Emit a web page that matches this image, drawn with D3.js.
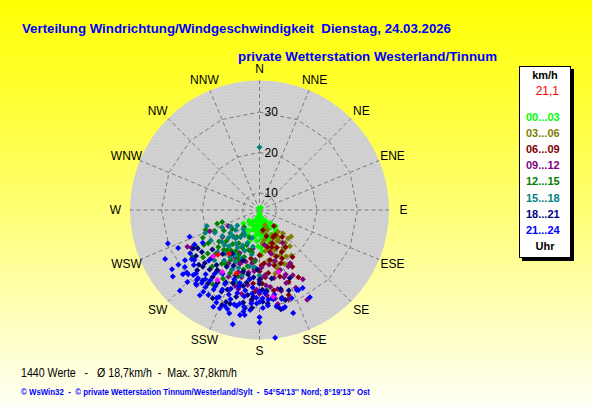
<!DOCTYPE html>
<html>
<head>
<meta charset="utf-8">
<title>Verteilung Windrichtung/Windgeschwindigkeit</title>
<script src="https://d3js.org/d3.v7.min.js"></script>
<style>
  body { margin: 0; }
  svg { display: block; font-family: "Liberation Sans", Arial, sans-serif; }
</style>
</head>
<body>
<svg id="chart" width="592" height="407"></svg>
<script>

// ---- data ----
var dirLabels = ["N","NNE","NE","ENE","E","ESE","SE","SSE","S","SSW","SW","WSW","W","WNW","NW","NNW"];
var ringTicks = [10, 20, 30];
var speedMin = 5.8, speedMax = 37.8;   // centre and rim of the disk, km/h
var bandLabels = ["00...03","03...06","06...09","09...12","12...15","15...18","18...21","21...24"];
var currentValue = "21,1";
var title1 = "Verteilung Windrichtung/Windgeschwindigkeit  Dienstag, 24.03.2026";
var title2 = "private Wetterstation Westerland/Tinnum";
var summary = "1440 Werte   -   \u00d8 18,7km/h  -  Max. 37,8km/h";
var footer = "\u00a9 WsWin32  -  \u00a9 private Wetterstation Tinnum/Westerland/Sylt  -  54\u00b054'13'' Nord; 8\u00b019'13'' Ost";

// [direction deg, speed km/h]
var h00_03 = [[180,6.5],[175,7.5],[185,8],[170,9],[190,9],[160,9.5],[200,10],[178,10.5],[165,11],[150,11],
  [210,11.5],[188,12],[172,12.5],[155,12.5],[195,13],[140,12],[220,12],[182,9.8],[168,10],[192,11],
  [176,8.5],[158,10.5],[202,8.5],[148,13.5],[185,13.5],[163,13.8],[215,10],[230,11],[170,14.5],[0,6.2],
  [30,6.5],[330,6.3],[175,11.8],[185,11],[160,8],[178,15],[182,14.8],[176,16],[195,7.5],[205,12.5],
  [172,7],[188,10],[165,13],[198,14],[155,10],[165,8.5],[150,9],[140,10],[135,11.5],[145,12.5],
  [200,11],[210,9],[190,12.5],[175,13],[160,13],[180,12],[170,11],[155,9],[225,9.5],[195,10]];
var h03_06 = [[160,9.8],[153,12.7],[142,16.1],[135,15.8],[146,17.1],[162,14.3],[173,11.2],[140,12.9],[171,13.3],[159,16.4],
  [155,18],[150,14.5],[165,12],[145,14],[168,15.5],[158,11],[150,19],[162,17.5],[170,18.5],[155,13.5],
  [148,16.8],[175,14],[160,20],[152,21],[178,17],[166,22],[145,19.5],[165,19],[157,15],[150,17.5],
  [172,16],[140,17.5],[135,14],[130,16],[148,15],[163,21],[155,20.5]];
var h06_09 = [[138,11.1],[148,13.1],[159,14.5],[166,16.5],[161,28],[170,10.8],[153,13.3],[168,15.1],[168,18.4],[145,17],
  [175,19],[158,20],[150,22],[180,17],[163,23],[172,21.5],[155,16],[185,20.5],[165,12.5],[140,14.5],
  [178,24],[190,18],[195,22],[200,19.5],[183,26],[158,25],[160,18],[175,22.5],[188,23],[150,25],
  [170,26],[180,21],[195,25],[165,20],[155,19],[145,20],[162,15.5],[178,19.5],[185,24],[152,17.5]];
var h09_12 = [[153,21.5],[153,23.9],[167,25.8],[152,30.9],[169,29.5],[150,21],[243,25.8],[241,25],[145,15.7],[247,19.2],
  [243,14.5],[234,17.1],[185,18.2],[175,21.9],[161,21.5],[189,24.6],[199,22],[201,27],[170,19.5],[180,23.5],
  [160,25],[195,19],[210,21],[175,27],[185,28.5],[148,26],[215,24],[165,17],[190,15.5],[205,17.5],
  [158,23],[172,14.5],[178,20],[192,27],[168,23],[182,25.5],[205,24],[198,25.5],[163,19],[175,24.5],
  [185,21],[165,26.5],[195,23],[180,26.5],[155,27],[200,20],[188,19],[170,28],[162,29],[178,22.5],
  [190,21.5],[160,23.5],[207,19],[195,26],[172,25]];
var h12_15 = [[252,16.8],[252,15.5],[244,21.4],[237,20.9],[219,18.5],[239,23.8],[212,27.5],[225,15],[215,13.5],[235,14],
  [205,16],[228,19.5],[198,18],[210,20],[230,22.5],[220,24],[245,18],[200,13],[190,16.5],[215,22],
  [240,16],[250,20],[208,25],[195,21],[222,11.5],[235,26],[203,19],[218,16.5],[227,17],[192,20],
  [210,17.5],[225,21],[205,23],[232,18.5],[215,18],[198,23],[220,14.5],[238,22],[185,18.5],[212,15.5],
  [200,15],[230,24],[222,19],[212,21.5],[205,18],[195,16]];
var h15_18 = [[253,19.4],[247,20.4],[243,18.2],[232,15],[224.5,15.1],[0,21.3],[215,14],[205,15.5],[220,17.5],[200,18.5],
  [210,16.5],[230,18],[238,20],[195,13],[225,20.5],[215,21],[190,17],[205,22],[175,25.6],[245,16],
  [235,12.5],[220,12],[212,24],[198,24.5],[185,20],[228,16],[240,14],[208,18.5],[218,19.5],[200,21],
  [225,18],[215,16],[205,20],[195,22.5],[235,17],[210,13],[190,20],[180,22],[222,22.5],[200,16.5],
  [230,13.5],[215,12.5],[200,14.5],[212,19.5],[190,15],[220,15]];
var h18_21 = [[234,23.4],[238,23.8],[240,24.8],[226,27.2],[219,28.2],[201.5,31],[197.4,30.1],[188.4,30.3],[184.4,30.1],[167.8,30.9],
  [156,24.2],[165.7,28.2],[164,28.9],[169,30.2],[225,25.6],[188,27],[184,27.3],[226,24.6],[234,25.2],[210,22],
  [200,25],[195,21.5],[215,26],[180,24],[205,28],[190,29],[175,26],[220,20],[230,21],[198,19],
  [185,22.5],[170,23],[208,30.5],[160,27],[212,18.5],[178,28.5],[192,25],[218,23],[202,27],[182,20.5],
  [195,28],[205,25.5],[215,28],[185,28],[175,29],[200,30],[220,25],[228,26],[190,24],[178,25.5],
  [210,26.5],[165,26],[200,23],[190,22],[215,24],[205,21],[180,23],[225,22.5]];
var h21_24 = [[250,29.9],[242.5,32.1],[235.9,31.9],[249,24.3],[234,26.5],[232.5,26.1],[236,28],[224.6,33.8],[220.8,29.9],[211,30.3],
  [205.5,32.3],[202,32],[199.8,31],[196.3,32.4],[193.2,34.8],[193.4,30.2],[189.1,30],[180,32.3],[180,33.6],[173,37.6],
  [176.2,26.4],[171.2,28.1],[166,28.5],[165.3,30.6],[161.9,32.6],[154,27.8],[151,27.8],[150,30.7],[232.5,32.8],[232.6,29],
  [229.4,29.5],[225.5,28.7],[221.9,29],[218.3,28.8],[214.5,30.3],[205.9,30],[190.5,32.2],[189,31.2],[185.4,30.6],[155,27.6],
  [178,27.6],[174.4,28.1],[172,27.8],[181.7,28.9],[179.7,28.4],[166.4,30.8],[215,25],[205,26],[200,28],[195,27],
  [190,26],[185,25],[210,27.5],[220,26.5],[225,28],[230,27],[200,24],[192,29.5],[182,27.5],[215,29],
  [205,29.5],[198,31.5],[188,32],[220,30],[178,30],[170,27],[210,24],[225,23.5],[240,22],[245,28],
  [236,30],[230,30.5],[188,23],[195,24.5],[185,29],[195,30],[205,31],[215,31.5],[225,31],[175,29.5],
  [180,26],[200,26.5],[210,28.5],[218,27.5],[228,29.5],[238,26],[242,24],[170,30],[160,29],[190,27.5],
  [195,25.5],[205,27.5],[185,26.5],[215,27],[222,28.5],[198,29]];
var extraMagenta = [[211,26],[211,23.7],[171,27.5],[163,21.8],[225,22]];
var extraRed = [[223,20.9],[215,19],[200,22.5]];

var bandData = [h00_03, h03_06, h06_09, h09_12, h12_15, h15_18, h18_21, h21_24];
var bandColors = ["#00ff00","#808000","#800000","#800080","#008000","#008080","#000080","#0000ff"];

// ---- layout ----
var cx = 259.5, cy = 210, R = 129.5;
var svg = d3.select("#chart");
var defs = svg.append("defs");

var grad = defs.append("linearGradient").attr("id", "bg")
  .attr("x1", 0).attr("y1", 0).attr("x2", 0).attr("y2", 1);
grad.append("stop").attr("offset", "0%").attr("stop-color", "#ffff00");
grad.append("stop").attr("offset", "50%").attr("stop-color", "#ffff70");
grad.append("stop").attr("offset", "100%").attr("stop-color", "#fffff6");

var pat = defs.append("pattern").attr("id", "dots")
  .attr("width", 3).attr("height", 3).attr("patternUnits", "userSpaceOnUse");
pat.append("rect").attr("width", 3).attr("height", 3).attr("fill", "#cfcfcf");
pat.append("rect").attr("x", 1).attr("y", 1).attr("width", 1).attr("height", 1).attr("fill", "#d9d9d9");

svg.append("rect").attr("width", 592).attr("height", 407).attr("fill", "url(#bg)");

var rScale = d3.scaleLinear().domain([speedMin, speedMax]).range([0, R]);
var aScale = d3.scaleLinear().domain([0, 360]).range([0, 2 * Math.PI]);

var plot = svg.append("g").attr("transform", "translate(" + cx + "," + cy + ")");

plot.append("circle").attr("r", R).attr("fill", "url(#dots)");

var spokeAngles = dirLabels.map(function(d, i) { return i * 22.5; });

// rings as 16-gons
var ring = d3.lineRadial()
  .angle(function(d) { return aScale(d); })
  .curve(d3.curveLinearClosed);

plot.selectAll("path.ring")
  .data(ringTicks)
  .enter().append("path")
  .attr("class", "ring")
  .attr("d", function(t) { return ring.radius(rScale(t))(spokeAngles); })
  .attr("fill", "none")
  .attr("stroke", "#7a7a7a")
  .attr("stroke-dasharray", "4,3");

plot.selectAll("line.spoke")
  .data(spokeAngles)
  .enter().append("line")
  .attr("class", "spoke")
  .attr("x1", 0).attr("y1", 0)
  .attr("x2", function(d) { return R * Math.sin(aScale(d)); })
  .attr("y2", function(d) { return -R * Math.cos(aScale(d)); })
  .attr("stroke", "#7a7a7a")
  .attr("stroke-dasharray", "4,3");

plot.selectAll("text.tick")
  .data(ringTicks)
  .enter().append("text")
  .attr("class", "tick")
  .attr("x", 5)
  .attr("y", function(t) { return -rScale(t); })
  .attr("dy", "0.35em")
  .attr("font-size", 12)
  .text(function(t) { return t; });

plot.selectAll("text.dir")
  .data(dirLabels)
  .enter().append("text")
  .attr("class", "dir")
  .attr("x", function(d, i) { return 144 * Math.sin(aScale(i * 22.5)); })
  .attr("y", function(d, i) { return -141 * Math.cos(aScale(i * 22.5)); })
  .attr("dy", "0.35em")
  .attr("text-anchor", "middle")
  .attr("font-size", 12)
  .text(function(d) { return d; });

// scatter points
var diamond = "M0,-3L3,0L0,3L-3,0Z";
function px(d) { return rScale(d[1]) * Math.sin(aScale(d[0])); }
function py(d) { return -rScale(d[1]) * Math.cos(aScale(d[0])); }

function drawPoints(list, colour) {
  plot.append("g").selectAll("path")
    .data(list)
    .enter().append("path")
    .attr("d", diamond)
    .attr("transform", function(d) { return "translate(" + px(d).toFixed(1) + "," + py(d).toFixed(1) + ")"; })
    .attr("fill", colour);
}
bandData.forEach(function(list, i) { drawPoints(list, bandColors[i]); });
drawPoints(extraMagenta, "#ff00ff");
drawPoints(extraRed, "#ff0000");

// titles
svg.append("text").attr("x", 22).attr("y", 28).attr("dy", "0.35em")
  .attr("font-size", 13).attr("font-weight", "bold").attr("fill", "#0000ff")
  .attr("textLength", 429).attr("lengthAdjust", "spacingAndGlyphs")
  .style("white-space", "pre").text(title1);
svg.append("text").attr("x", 238).attr("y", 56).attr("dy", "0.35em")
  .attr("font-size", 13).attr("font-weight", "bold").attr("fill", "#0000ff")
  .attr("textLength", 259).attr("lengthAdjust", "spacingAndGlyphs")
  .text(title2);

svg.append("text").attr("x", 21).attr("y", 373).attr("dy", "0.35em")
  .attr("font-size", 12).attr("fill", "#000")
  .attr("textLength", 216).attr("lengthAdjust", "spacingAndGlyphs")
  .style("white-space", "pre").text(summary);
svg.append("text").attr("x", 21).attr("y", 392).attr("dy", "0.35em")
  .attr("font-size", 8.5).attr("font-weight", "bold").attr("fill", "#0000ff")
  .attr("textLength", 349).attr("lengthAdjust", "spacingAndGlyphs")
  .style("white-space", "pre").text(footer);

// legend box
var lg = svg.append("g");
lg.append("rect").attr("x", 522).attr("y", 69).attr("width", 52).attr("height", 192).attr("fill", "#000");
lg.append("rect").attr("x", 519.5).attr("y", 66.5).attr("width", 51).attr("height", 191)
  .attr("fill", "#fff").attr("stroke", "#000");
lg.append("text").attr("x", 545).attr("y", 75).attr("dy", "0.35em").attr("text-anchor", "middle")
  .attr("font-size", 11).attr("font-weight", "bold").text("km/h");
lg.append("text").attr("x", 559).attr("y", 91).attr("dy", "0.35em").attr("text-anchor", "end")
  .attr("font-size", 12).attr("fill", "#ff0000").text(currentValue);

var yBand = d3.scalePoint().domain(bandLabels).range([117, 230]);
lg.selectAll("text.band")
  .data(bandLabels)
  .enter().append("text")
  .attr("class", "band")
  .attr("x", 526)
  .attr("y", function(d) { return yBand(d); })
  .attr("dy", "0.35em")
  .attr("font-size", 11).attr("font-weight", "bold")
  .attr("fill", function(d, i) { return bandColors[i]; })
  .text(function(d) { return d; });
lg.append("text").attr("x", 545).attr("y", 246).attr("dy", "0.35em").attr("text-anchor", "middle")
  .attr("font-size", 11).attr("font-weight", "bold").text("Uhr");

</script>
</body>
</html>
